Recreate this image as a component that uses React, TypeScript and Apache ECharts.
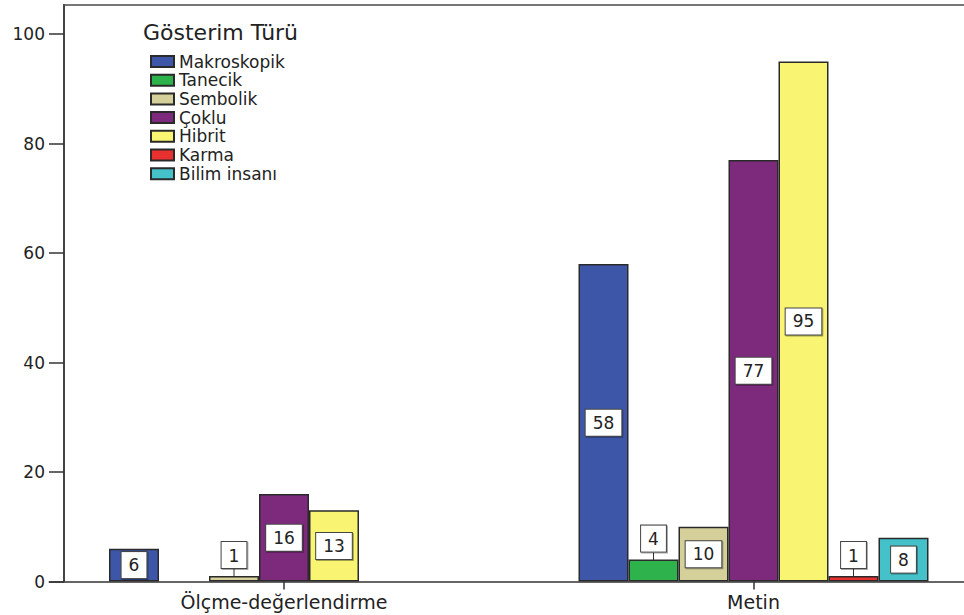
import React, { useEffect, useRef } from "react";
import * as echarts from "echarts";

// Categories on the x axis
const categories = ["Ölçme-değerlendirme", "Metin"];

// Representation types (one bar series each)
const seriesNames = ["Makroskopik", "Tanecik", "Sembolik", "Çoklu", "Hibrit", "Karma", "Bilim insanı"];

// Counts per category; null = no bar
const makroskopik = [6, 58];
const tanecik = [null, 4];
const sembolik = [1, 10];
const coklu = [16, 77];
const hibrit = [13, 95];
const karma = [null, 1];
const bilimInsani = [null, 8];

const seriesValues: (number | null)[][] = [makroskopik, tanecik, sembolik, coklu, hibrit, karma, bilimInsani];

const yTicks = [0, 20, 40, 60, 80, 100];

const colors = ["#3d56a8", "#2eb34c", "#d5cf9a", "#7d2a7c", "#f9f572", "#e8302e", "#45c2c9"];

const FONT = "DejaVu Sans, Arial, sans-serif";
// Bars shorter than this carry their value box above them
const SMALL = 5;

export default function App() {
  const ref = useRef<HTMLDivElement>(null);

  useEffect(() => {
    document.body.style.margin = "0";
    const chart = echarts.init(ref.current!, undefined, { renderer: "svg" });

    const series = seriesNames.map((name, si) => ({
      name,
      type: "bar",
      barWidth: 50,
      barGap: "0%",
      itemStyle: { color: colors[si], borderColor: "#2a2a2a", borderWidth: 1.5 },
      label: {
        show: true,
        position: "inside",
        formatter: "{c}",
        color: "#222",
        fontFamily: FONT,
        fontSize: 17,
        backgroundColor: "#fff",
        borderColor: "#444",
        borderWidth: 1,
        padding: [5, 7, 4, 7],
        shadowColor: "rgba(0,0,0,0.35)",
        shadowOffsetX: 1,
        shadowOffsetY: 1,
        shadowBlur: 0,
      },
      labelLine: { show: true, lineStyle: { color: "#333", width: 1 } },
      labelLayout: (p: any) => {
        const v = seriesValues[p.seriesIndex]?.[p.dataIndex];
        return v != null && v < SMALL ? { dy: -7 } : {};
      },
      data: seriesValues[si].map((v) =>
        v == null ? null : v < SMALL ? { value: v, label: { position: "top", distance: 1 } } : v
      ),
    }));

    chart.setOption({
      animation: false,
      backgroundColor: "#fff",
      title: {
        text: "Gösterim Türü",
        left: 143,
        top: 21,
        padding: 0,
        textStyle: { fontFamily: FONT, fontSize: 22, fontWeight: "normal", color: "#222" },
      },
      legend: {
        orient: "vertical",
        left: 150,
        top: 53,
        padding: 0,
        itemWidth: 23,
        itemHeight: 11,
        itemGap: 1.7,
        icon: "rect",
        textStyle: { fontFamily: FONT, fontSize: 17, color: "#222" },
        data: seriesNames,
      },
      grid: { left: 49.25, width: 939, top: 5, bottom: 33.5, containLabel: false },
      xAxis: {
        type: "category",
        data: categories,
        axisLine: { lineStyle: { color: "#333", width: 1.5 } },
        axisTick: { show: true, alignWithLabel: true, length: 8, lineStyle: { color: "#333", width: 1.5 } },
        axisLabel: { fontFamily: FONT, fontSize: 19, color: "#222", margin: 11 },
      },
      yAxis: {
        type: "value",
        min: 0,
        max: 105.3,
        interval: 20,
        offset: -14.75,
        axisLine: { show: true, lineStyle: { color: "#444", width: 2 } },
        axisTick: { show: true, length: 15, customValues: yTicks, lineStyle: { color: "#333", width: 1.5 } },
        axisLabel: { fontFamily: FONT, fontSize: 17, color: "#222", margin: 19, customValues: yTicks },
        splitLine: { show: false },
      },
      graphic: [
        {
          type: "line",
          shape: { x1: 63, y1: 5, x2: 990, y2: 5 },
          style: { stroke: "#777", lineWidth: 2 },
          silent: true,
        },
      ],
      series,
    });

    return () => chart.dispose();
  }, []);

  // The plot runs past the right edge of the visible area, so the chart is
  // drawn a little wider than its clipping frame.
  return (
    <div style={{ width: 964, height: 615, overflow: "hidden", position: "relative" }}>
      <div ref={ref} style={{ width: 990, height: 615 }} />
    </div>
  );
}
